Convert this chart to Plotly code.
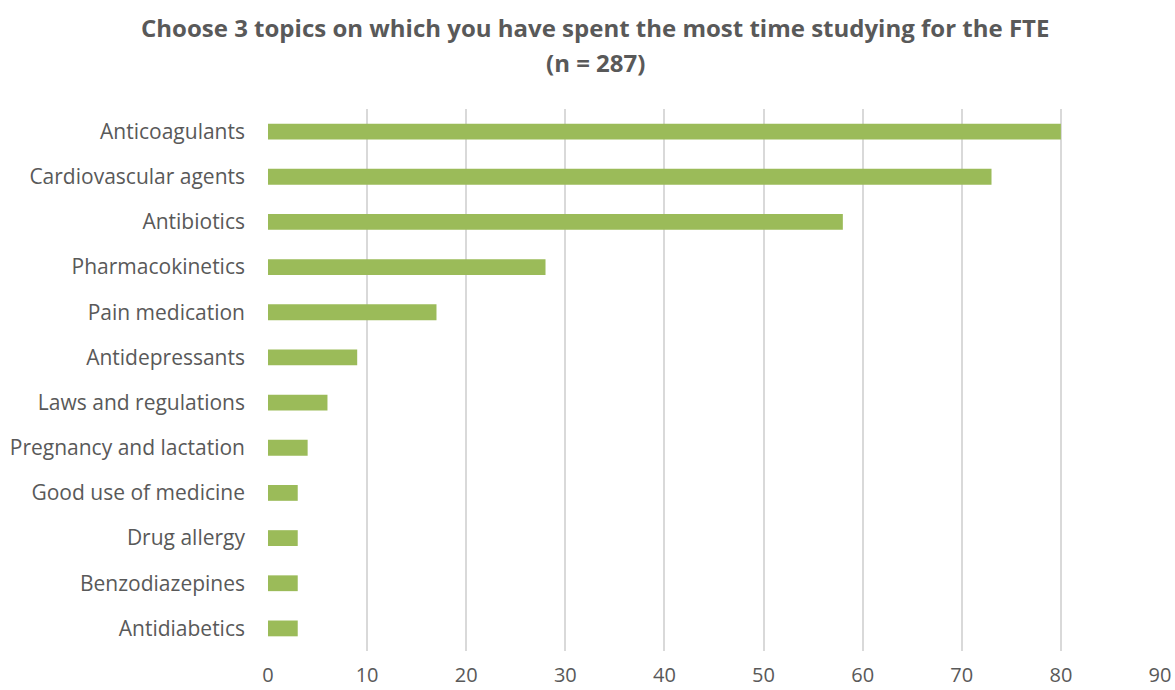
import plotly.graph_objects as go

topics = [
    "Anticoagulants",
    "Cardiovascular agents",
    "Antibiotics",
    "Pharmacokinetics",
    "Pain medication",
    "Antidepressants",
    "Laws and regulations",
    "Pregnancy and lactation",
    "Good use of medicine",
    "Drug allergy",
    "Benzodiazepines",
    "Antidiabetics",
]
counts = [80, 73, 58, 28, 17, 9, 6, 4, 3, 3, 3, 3]
x_ticks = [0, 10, 20, 30, 40, 50, 60, 70, 80, 90]

title_lines = [
    "Choose 3 topics on which you have spent the most time studying for the FTE",
    "(n = 287)",
]

text_color = "#595959"
font_family = "'Open Sans', sans-serif"

fig = go.Figure(
    go.Bar(
        x=counts,
        y=topics,
        orientation="h",
        width=0.35,
        marker=dict(color="#9BBB59", line=dict(width=0)),
        hoverinfo="x+y",
    )
)

# two-line bold title, placed in pixel terms above the plot area
for i, line in enumerate(title_lines):
    fig.add_annotation(
        text=f"<b>{line}</b>",
        xref="paper",
        yref="paper",
        x=0.3666,
        y=1,
        yshift=82 - 35 * i,
        xanchor="center",
        yanchor="middle",
        showarrow=False,
        font=dict(family=font_family, size=24, color=text_color),
    )

fig.update_layout(
    width=1175,
    height=690,
    margin=dict(l=268, r=15, t=109, b=39, autoexpand=False),
    paper_bgcolor="white",
    plot_bgcolor="white",
    showlegend=False,
    font=dict(family=font_family, size=21, color=text_color),
    xaxis=dict(
        range=[0, 90],
        tickvals=x_ticks,
        showgrid=True,
        gridcolor="#D9D9D9",
        gridwidth=1.5,
        zeroline=False,
        showline=False,
        ticks="",
        ticklabelstandoff=10,
        tickfont=dict(size=20, color=text_color),
        automargin=False,
        fixedrange=True,
    ),
    yaxis=dict(
        categoryorder="array",
        categoryarray=topics[::-1],
        showgrid=False,
        zeroline=False,
        showline=False,
        ticks="",
        ticklabelstandoff=22,
        tickfont=dict(size=21, color=text_color),
        automargin=False,
        fixedrange=True,
    ),
)

fig.write_html("out.html")
